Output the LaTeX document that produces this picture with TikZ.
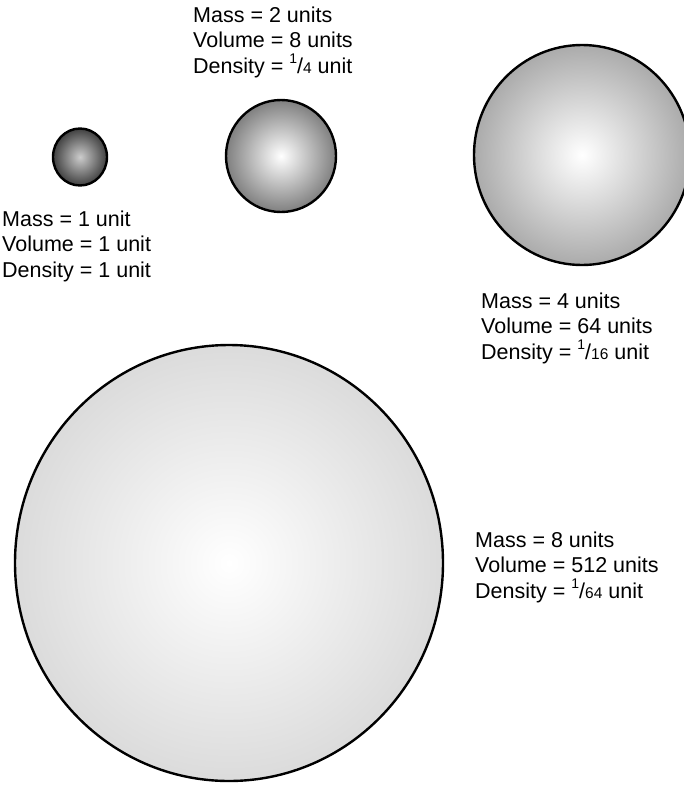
\documentclass[tikz,border=0pt]{standalone}
\usepackage{fontspec}
\setmainfont{Liberation Sans}
\usepackage{tikz}
\usetikzlibrary{positioning,calc}

% radial shading, centre colour to rim colour
\pgfdeclareradialshading[rimcol,midcol]{sphere}{\pgfpoint{0bp}{0bp}}{color(0bp)=(midcol); color(25bp)=(rimcol); color(50bp)=(rimcol)}
\newcommand{\frc}[2]{\raisebox{.42em}{\fontsize{14}{14}\selectfont #1}/{\fontsize{15.5}{15.5}\selectfont #2}}

\tikzset{
  sphere/.style 2 args={shading=sphere, draw=black, line width=2.4pt,
    /utils/exec={\colorlet{midcol}{#1}\colorlet{rimcol}{#2}}},
  lbl/.style={anchor=base west, inner sep=0pt, font=\fontsize{21.5}{25.5}\selectfont}
}

\begin{document}
\begin{tikzpicture}[x=1pt,y=-1pt]
    \useasboundingbox (0,0) rectangle (684,785);

    % Spheres
    \path[sphere={black!20}{black!75}] (80,157) ellipse [x radius=27pt, y radius=28.5pt];
    \path[sphere={white}{black!50}] (281,156) ellipse [x radius=55pt, y radius=56pt];
    \path[sphere={white}{black!33}] (582,155) ellipse [x radius=108pt, y radius=110pt];
    \path[sphere={white}{black!14}] (229,563) ellipse [x radius=214pt, y radius=218pt];

    % Labels
    \foreach \n/\x/\y/\ms/\vl/\dn in {
        a/2/226/{1 unit}/{1 unit}/{1 unit},
        b/193/22/{2 units}/{8 units}/{\frc{1}{4} unit},
        c/481/308/{4 units}/{64 units}/{\frc{1}{16} unit},
        d/475/547/{8 units}/{512 units}/{\frc{1}{64} unit}} {
        \node[lbl] (mass-\n) at (\x,\y) {Mass = \ms};
        \node[lbl] (vol-\n) at (\x,\y+25.5) {Volume = \vl};
        \node[lbl] (dens-\n) at (\x,\y+51) {Density = \dn};
    }
\end{tikzpicture}
\end{document}
